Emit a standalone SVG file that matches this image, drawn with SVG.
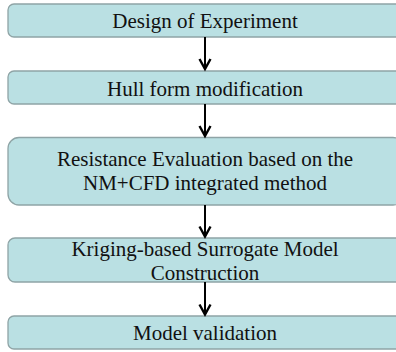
<svg xmlns="http://www.w3.org/2000/svg" width="396" height="352" viewBox="0 0 396 352">
<style>
.box{fill:#bae0e3;stroke:#8fa4a6;stroke-width:1.3}
.t{font-family:"Liberation Serif","Times New Roman",serif;font-size:21px;fill:#111;text-anchor:middle}
.c{stroke:#000;stroke-width:2;fill:none}
.h{stroke:#000;stroke-width:2.4;fill:none;stroke-linejoin:miter}
</style>
<rect width="396" height="352" fill="#fff"/>
<g id="n1"><rect class="box" x="8" y="4" width="396" height="33" rx="6"/><text class="t" x="205" y="28">Design of Experiment</text></g>
<g id="n2"><rect class="box" x="8" y="71" width="396" height="33" rx="6"/><text class="t" x="205" y="96">Hull form modification</text></g>
<g id="n3"><rect class="box" x="8" y="137.5" width="396" height="67.5" rx="11"/><text class="t" x="205" y="166">Resistance Evaluation based on the</text><text class="t" x="205" y="190">NM+CFD integrated method</text></g>
<g id="n4"><rect class="box" x="8" y="238" width="396" height="44" rx="7"/><text class="t" x="205" y="256">Kriging-based Surrogate Model</text><text class="t" x="205" y="280">Construction</text></g>
<g id="n5"><rect class="box" x="8" y="316" width="396" height="33" rx="6"/><text class="t" x="205" y="340">Model validation</text></g>
<g id="connectors">
<line class="c" x1="205" y1="37" x2="205" y2="69"/><path class="h" d="M199.5,59 L205,69 L210.5,59"/>
<line class="c" x1="205" y1="104" x2="205" y2="136"/><path class="h" d="M199.5,126 L205,136 L210.5,126"/>
<line class="c" x1="205" y1="205" x2="205" y2="236.5"/><path class="h" d="M199.5,226.5 L205,236.5 L210.5,226.5"/>
<line class="c" x1="205" y1="282" x2="205" y2="314.5"/><path class="h" d="M199.5,304.5 L205,314.5 L210.5,304.5"/>
</g>
</svg>
